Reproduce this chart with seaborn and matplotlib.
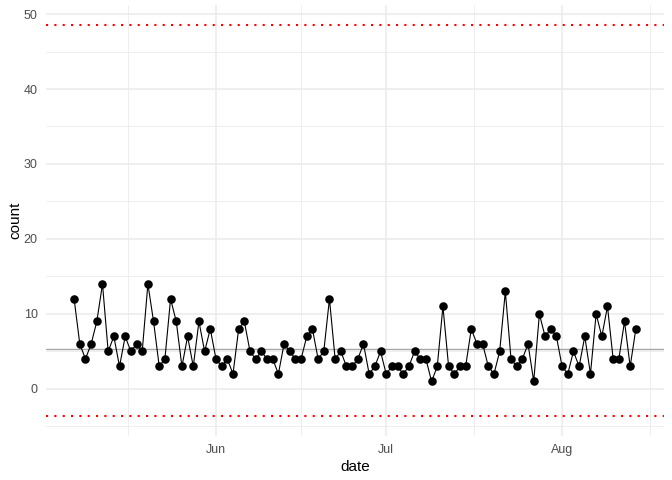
#!/usr/bin/env python3

import matplotlib
matplotlib.use("Agg")
import matplotlib.pyplot as plt
import seaborn as sns
import pandas as pd
import numpy as np

# ===================== DATOS =====================

start_date = "2023-05-07"
counts = [
    12, 6, 4, 6, 9, 14, 5, 7, 3, 7, 5, 6, 5, 14, 9, 3, 4, 12, 9, 3,
    7, 3, 9, 5, 8, 4, 3, 4, 2, 8, 9, 5, 4,
    5, 4, 4, 2, 6, 5, 4, 4, 7, 8, 4, 5, 12, 4, 5, 3, 3, 4, 6, 2, 3,
    5, 2, 3, 3, 2, 3, 5, 4, 4, 1, 3, 11,
    3, 2, 3, 3, 8, 6, 6, 3, 2, 5, 13, 4, 3, 4, 6, 1, 10, 7, 8, 7,
    3, 2, 5, 3, 7, 2, 10, 7, 11, 4, 4, 9, 3, 8,
]
center_line = 5.33
upper_limit = 48.6
lower_limit = -3.6

y_ticks = [0, 10, 20, 30, 40, 50]
y_minor = [-5, 5, 15, 25, 35, 45]
month_ticks = ["2023-06-01", "2023-07-01", "2023-08-01"]
month_labels = ["Jun", "Jul", "Aug"]
minor_x = ["2023-05-16 12:00", "2023-06-16 00:00", "2023-07-16 12:00", "2023-08-16 12:00"]

df = pd.DataFrame({
    "date": pd.date_range(start_date, periods=len(counts), freq="D"),
    "count": counts,
})

# ===================== FIGURA =====================

sns.set_theme(style="white")
plt.rcParams["font.family"] = ["Liberation Sans", "DejaVu Sans"]

fig = plt.figure(figsize=(6.72, 4.8), dpi=100)
ax = fig.add_axes([0.0685, 0.0927, 0.9195, 0.897])

grid_col = "#EBEBEB"

sns.lineplot(data=df, x="date", y="count", ax=ax, color="black",
             linewidth=0.8, zorder=3)
sns.scatterplot(data=df, x="date", y="count", ax=ax, color="black",
                s=38, edgecolor="black", linewidth=0, zorder=4)

ax.axhline(center_line, color="#A6A6A6", linewidth=1.0, zorder=2)
for lim in (upper_limit, lower_limit):
    ax.axhline(lim, color="red", linewidth=1.5,
               linestyle=(0, (1, 3)), dash_capstyle="butt", zorder=2)

# Escalas
x0 = df["date"].min()
x1 = df["date"].max()
pad = (x1 - x0) * 0.05
ax.set_xlim(x0 - pad, x1 + pad)
yr = upper_limit - lower_limit
ax.set_ylim(lower_limit - 0.05 * yr, upper_limit + 0.05 * yr)

ax.set_xticks(pd.to_datetime(month_ticks))
ax.set_xticklabels(month_labels)
ax.set_xticks(pd.to_datetime(minor_x), minor=True)
ax.set_yticks(y_ticks)
ax.set_yticks(y_minor, minor=True)

ax.grid(True, which="major", color=grid_col, linewidth=1.1, zorder=0)
ax.grid(True, which="minor", color=grid_col, linewidth=0.6, zorder=0)
ax.set_axisbelow(True)

ax.tick_params(axis="both", which="both", length=0, labelsize=9,
               labelcolor="#4D4D4D", pad=6)
ax.set_xlabel("date", fontsize=11, color="black", labelpad=3)
ax.set_ylabel("count", fontsize=11, color="black", labelpad=1)

for s in ax.spines.values():
    s.set_visible(False)

fig.savefig("out.png", dpi=100)
plt.close("all")
